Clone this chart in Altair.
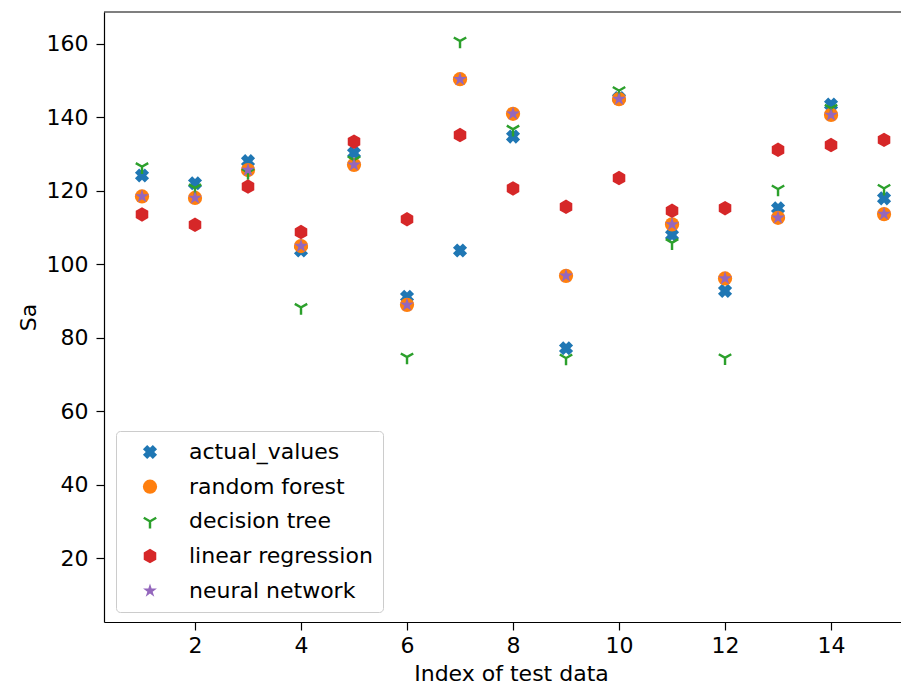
import altair as alt
import pandas as pd
import numpy as np

index = list(range(1, 16))
actual_values = [124.2, 122.1, 128.1, 103.8, 130.3, 91.2, 103.8, 134.8, 77.2, 145.3, 108.0, 92.8, 115.3, 143.5, 118.0]
random_forest = [118.5, 118.1, 125.7, 105.0, 127.1, 89.0, 150.4, 141.0, 96.9, 145.0, 110.9, 96.2, 112.7, 140.7, 113.7]
decision_tree = [126.6, 120.8, 125.0, 88.3, 128.4, 74.8, 160.8, 136.8, 74.5, 147.3, 105.9, 74.6, 120.5, 142.5, 120.7]
linear_regression = [113.6, 110.8, 121.2, 108.8, 133.4, 112.3, 135.2, 120.7, 115.7, 123.5, 114.6, 115.3, 131.2, 132.5, 133.9]
neural_network = [118.5, 118.1, 125.7, 105.0, 127.1, 89.0, 150.4, 141.0, 96.9, 145.0, 110.9, 96.2, 112.7, 140.7, 113.7]

series_names = ["actual_values", "random forest", "decision tree", "linear regression", "neural network"]
series_values = [actual_values, random_forest, decision_tree, linear_regression, neural_network]
series_colors = ["#1f77b4", "#ff7f0e", "#2ca02c", "#d62728", "#9467bd"]
x_ticks = [2, 4, 6, 8, 10, 12, 14]
y_ticks = [20, 40, 60, 80, 100, 120, 140, 160]

rows = []
for name, vals in zip(series_names, series_values):
    for i, v in zip(index, vals):
        rows.append({"index": i, "Sa": v, "series": name})
df = pd.DataFrame(rows)


def poly(pts):
    return "M" + "L".join(f"{x:.3f},{y:.3f}" for x, y in pts) + "Z"


# filled X (matplotlib 'X')
w = 0.6
x_pts = [(w, 0), (1, 1 - w), (1 - w, 1), (0, w), (w - 1, 1), (-1, 1 - w),
         (-w, 0), (-1, w - 1), (w - 1, -1), (0, -w), (1 - w, -1), (1, w - 1)]
x_path = poly(x_pts)

# tri_down (matplotlib '1') as three filled thin arms
t = 0.17
arms = []
for ang in [90, 210, 330]:
    a = np.deg2rad(ang)
    dx, dy = np.cos(a), np.sin(a)
    px, py = -dy, dx
    p = [(-t * dx + t * px, -t * dy + t * py), (dx + t * px, dy + t * py),
         (dx - t * px, dy - t * py), (-t * dx - t * px, -t * dy - t * py)]
    arms.append(poly(p))
y_path = "".join(arms)

# hexagon (matplotlib 'h')
hex_pts = [(np.cos(np.deg2rad(a)), np.sin(np.deg2rad(a))) for a in range(-90, 270, 60)]
hex_path = poly(hex_pts)

# star (matplotlib '*')
star_pts = []
for k in range(10):
    r = 1.0 if k % 2 == 0 else 0.381
    a = np.deg2rad(-90 + 36 * k)
    star_pts.append((r * np.cos(a), r * np.sin(a)))
star_path = poly(star_pts)

series_shapes = [x_path, "circle", y_path, hex_path, star_path]
series_sizes = [200, 213, 169, 213, 200]

W, H = 797, 610
FS = 22

legend_opts = dict(title=None, orient="none", legendX=12, legendY=419)
color_enc = alt.Color("series:N", scale=alt.Scale(domain=series_names, range=series_colors),
                      legend=alt.Legend(**legend_opts))
shape_enc = alt.Shape("series:N", scale=alt.Scale(domain=series_names, range=series_shapes),
                      legend=alt.Legend(**legend_opts))
size_enc = alt.Size("series:N", scale=alt.Scale(domain=series_names, range=series_sizes),
                    legend=alt.Legend(**legend_opts))

x_enc = alt.X("index:Q", scale=alt.Scale(domain=[0.283, 15.32], nice=False, zero=False),
              axis=alt.Axis(values=x_ticks, title="Index of test data", titleX=407))
y_enc = alt.Y("Sa:Q", scale=alt.Scale(domain=[2.7, 168.7], nice=False, zero=False),
              axis=alt.Axis(values=y_ticks, title="Sa"))

base = alt.Chart(df)
layers = []
for name in series_names:
    layers.append(
        base.transform_filter(alt.datum.series == name)
        .mark_point(filled=True, opacity=1, strokeWidth=0)
        .encode(x=x_enc, y=y_enc, color=color_enc, shape=shape_enc, size=size_enc)
    )

top_border = alt.Chart(pd.DataFrame({"a": [0]})).mark_rule(color="black", strokeWidth=1.2).encode(
    x=alt.value(0), x2=alt.value(W), y=alt.value(0)
)

chart = (
    alt.layer(*layers, top_border)
    .properties(width=W, height=H, autosize=alt.AutoSizeParams(type="none"),
                padding={"left": 96, "top": 4, "right": 0, "bottom": 64})
    .configure_view(stroke=None)
    .configure_axis(
        grid=False,
        domainColor="black", domainWidth=1.2,
        tickColor="black", tickWidth=1.2, tickSize=8,
        labelFont="DejaVu Sans", labelFontSize=FS, labelColor="black",
        titleFont="DejaVu Sans", titleFontSize=FS, titleFontWeight="normal", titleColor="black",
    )
    .configure_axisX(labelPadding=5, titlePadding=7)
    .configure_axisY(labelPadding=8, titlePadding=6)
    .configure_legend(
        labelFont="DejaVu Sans", labelFontSize=FS, labelColor="black", labelLimit=400,
        padding=10, rowPadding=12.7, symbolOffset=13, labelOffset=28,
        strokeColor="#cccccc", fillColor="white", cornerRadius=4,
        symbolStrokeWidth=0, symbolOpacity=1,
    )
)

chart.save("out.html", embed_options={"renderer": "svg", "actions": False})
